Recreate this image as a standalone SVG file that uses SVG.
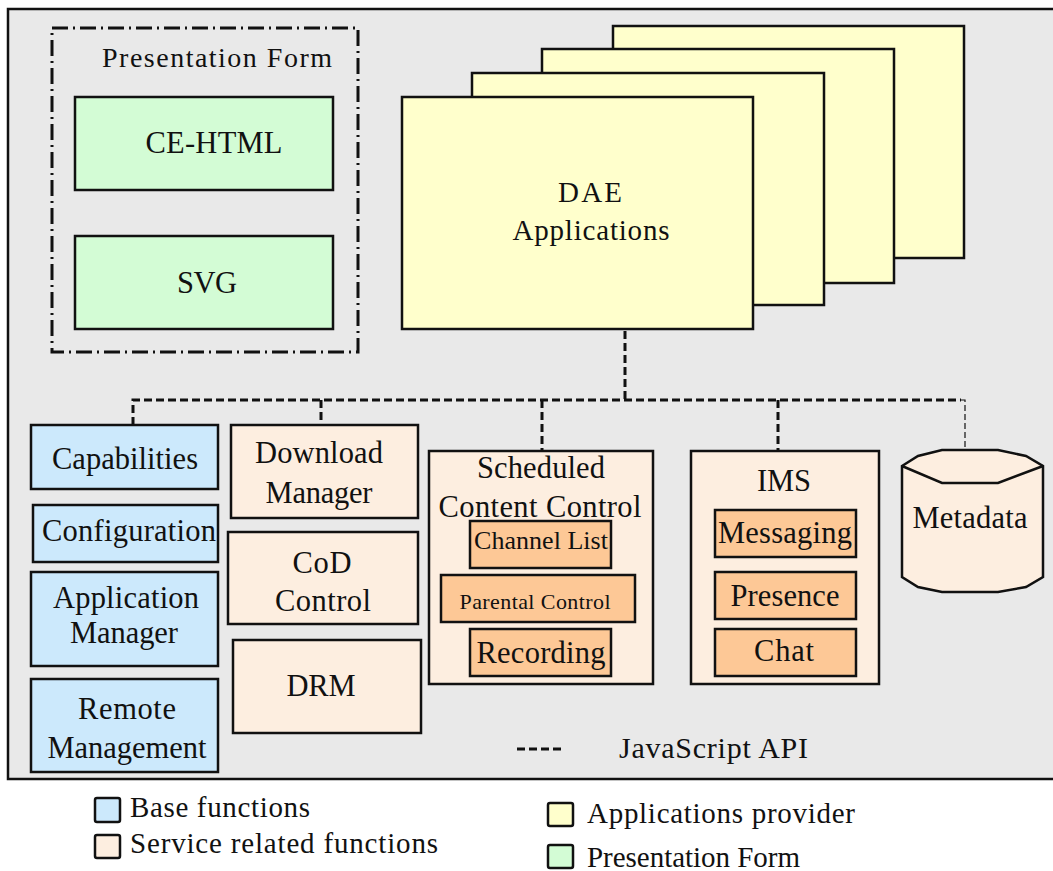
<svg xmlns="http://www.w3.org/2000/svg" width="1053" height="871" viewBox="0 0 1053 871">
<style>
text{font-family:"Liberation Serif","Times New Roman",serif;fill:#111;}
.t{font-size:30.5px;text-anchor:middle;}
.box{stroke:#111;stroke-width:2.5;}
.base{fill:#cce9fc;}
.serv{fill:#fdeee0;}
.sub{fill:#fdc896;}
.app{fill:#ffffcc;}
.pres{fill:#d3fcd5;}
.dash{fill:none;stroke:#111;stroke-width:3;stroke-dasharray:8 4;}
.thin{fill:none;stroke:#111;stroke-width:1.2;stroke-dasharray:6 3;}
.lg{font-size:29px;}
</style>
<rect x="8" y="9" width="1052" height="770" fill="#e9e9e9" stroke="#111" stroke-width="2.5"/>

<g id="presentation-form">
<rect x="52" y="28" width="306" height="324" fill="none" stroke="#111" stroke-width="3" stroke-dasharray="16 5 2 5"/>
<text x="102" y="67" style="font-size:28px" textLength="230" lengthAdjust="spacing">Presentation Form</text>
</g>
<g id="ce-html"><rect class="box pres" x="75" y="97" width="258" height="93"/><text class="t" x="214" y="153" textLength="137">CE-HTML</text></g>
<g id="svg"><rect class="box pres" x="75" y="236" width="258" height="93"/><text class="t" x="207" y="293" textLength="60">SVG</text></g>

<g id="dae-applications">
<rect class="box app" x="613" y="26" width="351" height="232"/>
<rect class="box app" x="542" y="49" width="352" height="234"/>
<rect class="box app" x="472" y="73" width="352" height="232"/>
<rect class="box app" x="402" y="97" width="351" height="232"/>
<text class="t" x="590" y="202" style="font-size:29px" textLength="64">DAE</text>
<text class="t" x="591" y="240" style="font-size:29px" textLength="157">Applications</text>
</g>

<g id="connectors">
<path class="dash" d="M625,331 V400"/>
<path class="dash" d="M133,425 V400 H961"/>
<path class="dash" d="M321,400 V425"/>
<path class="dash" d="M542,400 V450"/>
<path class="dash" d="M778,400 V450"/>
<path class="thin" d="M961,400 H965 V450"/>
</g>

<g id="capabilities"><rect class="box base" x="31" y="425" width="187" height="64"/><text class="t" x="125" y="469" textLength="146">Capabilities</text></g>
<g id="configuration"><rect class="box base" x="33" y="505" width="185" height="57"/><text class="t" x="129" y="541" textLength="174">Configuration</text></g>
<g id="application-manager"><rect class="box base" x="31" y="572" width="187" height="94"/><text class="t" x="126" y="608" textLength="146">Application</text><text class="t" x="124" y="643" textLength="108">Manager</text></g>
<g id="remote-management"><rect class="box base" x="31" y="679" width="187" height="93"/><text class="t" x="127" y="719" textLength="98">Remote</text><text class="t" x="127" y="758" textLength="159">Management</text></g>

<g id="download-manager"><rect class="box serv" x="231" y="425" width="187" height="93"/><text class="t" x="319" y="463" textLength="128">Download</text><text class="t" x="319" y="503" textLength="107">Manager</text></g>
<g id="cod-control"><rect class="box serv" x="228" y="532" width="190" height="92"/><text class="t" x="322" y="573" textLength="59">CoD</text><text class="t" x="323" y="611" textLength="96">Control</text></g>
<g id="drm"><rect class="box serv" x="233" y="640" width="188" height="93"/><text class="t" x="321" y="696" textLength="69">DRM</text></g>

<g id="scheduled-content-control">
<rect class="box serv" x="429" y="451" width="224" height="233"/>
<text class="t" x="541" y="478" textLength="128">Scheduled</text>
<text class="t" x="540" y="517" textLength="203">Content Control</text>
</g>
<g id="channel-list"><rect class="box sub" x="470" y="521" width="141" height="47"/><text class="t" x="541" y="549" style="font-size:26px" textLength="134">Channel List</text></g>
<g id="parental-control"><rect class="box sub" x="441" y="575" width="194" height="47"/><text class="t" x="535" y="609" style="font-size:22px" textLength="151">Parental Control</text></g>
<g id="recording"><rect class="box sub" x="470" y="629" width="141" height="47"/><text class="t" x="541" y="663" textLength="129">Recording</text></g>

<g id="ims">
<rect class="box serv" x="691" y="451" width="188" height="233"/>
<text class="t" x="784" y="491" textLength="54">IMS</text>
</g>
<g id="messaging"><rect class="box sub" x="715" y="510" width="141" height="47"/><text class="t" x="785" y="543" textLength="134">Messaging</text></g>
<g id="presence"><rect class="box sub" x="715" y="572" width="141" height="47"/><text class="t" x="785" y="606" textLength="109">Presence</text></g>
<g id="chat"><rect class="box sub" x="715" y="629" width="141" height="47"/><text class="t" x="784" y="661" textLength="60">Chat</text></g>

<g id="metadata">
<path class="box serv" d="M902,466 L918,456 L942,450 L998,450 L1026,456 L1043,466 L1043,577 L1026,587 L998,592 L942,592 L918,587 L902,577 Z"/>
<path d="M902,466 L942,483 L998,483 L1043,466" fill="none" stroke="#111" stroke-width="2.5"/>
<text class="t" x="970" y="528" textLength="115">Metadata</text>
</g>

<g id="legend-api">
<path class="dash" d="M517,749 H563"/>
<text x="619" y="758" style="font-size:30px" textLength="189" lengthAdjust="spacing">JavaScript API</text>
</g>

<g id="legend">
<rect class="base" x="95" y="798" width="25" height="24" rx="2" stroke="#111" stroke-width="2.5"/>
<text class="lg" x="130" y="817" textLength="180">Base functions</text>
<rect class="serv" x="95" y="835" width="25" height="23" rx="2" stroke="#111" stroke-width="2.5"/>
<text class="lg" x="130" y="853" textLength="308">Service related functions</text>
<rect class="app" x="548" y="803" width="25" height="23" rx="2" stroke="#111" stroke-width="2.5"/>
<text class="lg" x="587" y="823" textLength="268">Applications provider</text>
<rect class="pres" x="548" y="845" width="25" height="23" rx="2" stroke="#111" stroke-width="2.5"/>
<text class="lg" x="587" y="867" textLength="213">Presentation Form</text>
</g>
</svg>
